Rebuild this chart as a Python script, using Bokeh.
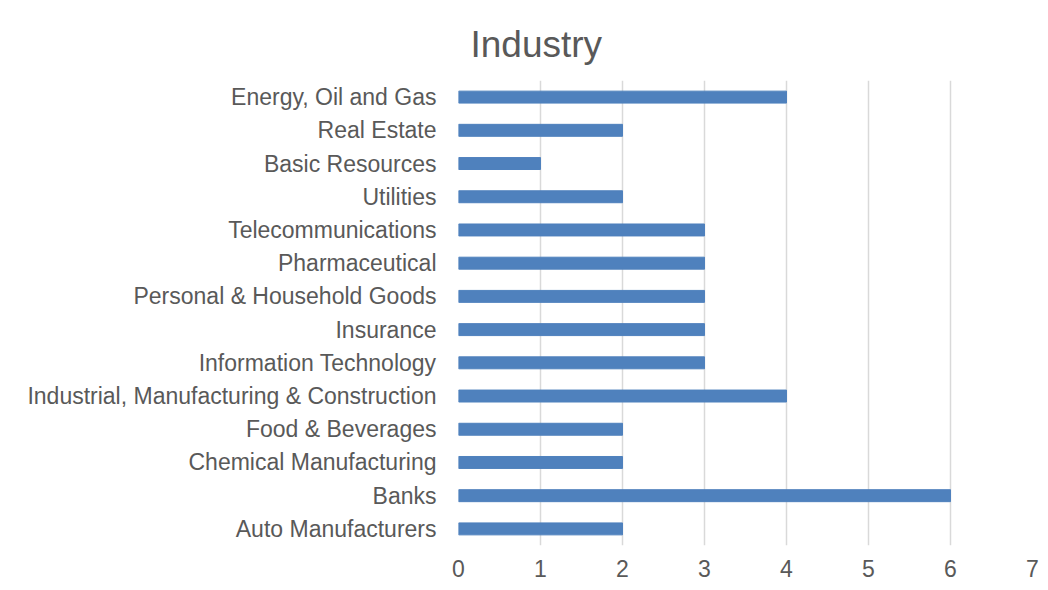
from bokeh.plotting import figure
from bokeh.models import FactorRange, Range1d, FixedTicker
from bokeh.embed import file_html
from bokeh.resources import INLINE

categories = ["Auto Manufacturers", "Banks", "Chemical Manufacturing", "Food & Beverages",
              "Industrial, Manufacturing & Construction", "Information Technology", "Insurance",
              "Personal & Household Goods", "Pharmaceutical", "Telecommunications", "Utilities",
              "Basic Resources", "Real Estate", "Energy, Oil and Gas"]
values = [2, 6, 2, 2, 4, 3, 3, 3, 3, 3, 2, 1, 2, 4]
x_ticks = [0, 1, 2, 3, 4, 5, 6, 7]

FONT = "Liberation Sans"
GREY = "#595959"

p = figure(width=1040, height=582, output_backend="svg", toolbar_location=None,
           y_range=FactorRange(factors=categories, range_padding=0),
           x_range=Range1d(0, 7), title="Industry",
           min_border_left=458, min_border_right=8, min_border_bottom=37, min_border_top=80)

p.hbar(y=categories, right=values, left=0, height=0.36, color="#4F81BD")

p.title.text_font = FONT
p.title.text_font_size = "37px"
p.title.text_font_style = "normal"
p.title.text_color = GREY
p.title.align = "left"
p.title.offset = 12
p.title.standoff = 32

p.outline_line_color = None
p.ygrid.grid_line_color = None
p.xgrid.grid_line_color = "#D9D9D9"
p.xgrid.grid_line_width = 1.5
p.xaxis.ticker = FixedTicker(ticks=x_ticks)

for ax in (p.xaxis, p.yaxis):
    ax.axis_line_color = None
    ax.major_tick_line_color = None
    ax.minor_tick_line_color = None
    ax.major_tick_out = 0
    ax.major_tick_in = 0
    ax.major_label_text_font = FONT
    ax.major_label_text_font_size = "23px"
    ax.major_label_text_color = GREY

p.xaxis.major_label_standoff = 14
p.yaxis.major_label_standoff = 22

open("out.html", "w").write(file_html(p, INLINE))
